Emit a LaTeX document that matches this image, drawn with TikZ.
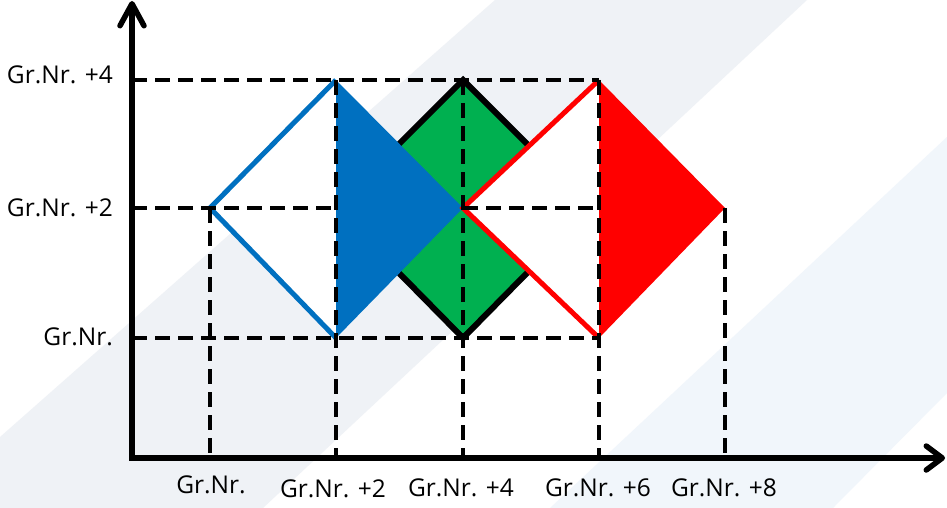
\documentclass[tikz,border=0pt]{standalone}
\usepackage{fontspec}
\setmainfont{Open Sans}
\usetikzlibrary{arrows.meta}
\definecolor{stripeA}{RGB}{239,242,246}
\definecolor{stripeB}{RGB}{241,246,251}
\definecolor{pblue}{RGB}{0,112,192}
\definecolor{pgreen}{RGB}{0,176,80}
\definecolor{pred}{RGB}{255,0,0}
\begin{document}
\begin{tikzpicture}[x=1pt,y=-1pt,
  guide/.style={line width=3.8pt, dash pattern=on 15pt off 8pt},
  axisline/.style={line width=5.5pt, line join=miter},
  edgeline/.style={line width=5pt, line join=miter},
  lbl/.style={font=\fontsize{24.5}{29}\selectfont, inner sep=0pt}]
\useasboundingbox (0,0) rectangle (947,508);
% background
\fill[white] (0,0) rectangle (947,508);
\fill[stripeA] (495,0) -- (807,0) -- (263,508) -- (0,508) -- (0,437) -- cycle;
\fill[stripeB] (550,508) -- (947,137) -- (947,393) -- (833,508) -- cycle;
% coordinates
\coordinate (O) at (132,458);
\coordinate (ytip) at (132,1);
\coordinate (xtip) at (945,458);
\coordinate (y4) at (132,80);
\coordinate (y2) at (132,208);
\coordinate (y0) at (132,338);
\coordinate (A0) at (210,208);
\coordinate (B4) at (336,80);
\coordinate (Bm) at (336,208);
\coordinate (B0) at (336,338);
\coordinate (C2) at (463,208);
\coordinate (G4) at (463,80);
\coordinate (G0) at (463,338);
\coordinate (Gl) at (335,208);
\coordinate (Gr) at (591,208);
\coordinate (R4) at (599,80);
\coordinate (Rm) at (599,208);
\coordinate (R0) at (599,338);
\coordinate (E2) at (725,208);
\coordinate (xa) at (210,458);
\coordinate (xb) at (336,458);
\coordinate (xc) at (463,458);
\coordinate (xd) at (599,458);
\coordinate (xe) at (725,458);
% green diamond
\filldraw[fill=pgreen, draw=black, line width=6pt, line join=miter] (G4) -- (Gr) -- (G0) -- (Gl) -- cycle;
% white halves
\fill[white] (B4) -- (A0) -- (B0) -- cycle;
\fill[white] (R4) -- (C2) -- (R0) -- cycle;
% filled halves
\fill[pblue] (B4) -- (C2) -- (B0) -- cycle;
\fill[pred] (R4) -- (E2) -- (R0) -- cycle;
% outlines
\draw[pblue, edgeline] (B4) -- (A0) -- (B0);
\draw[pred, edgeline] (R4) -- (C2) -- (R0);
% guides
\draw[guide] (y4) -- (R4);
\draw[guide] (y2) -- (Bm);
\draw[guide] (C2) -- (Rm);
\draw[guide] (y0) -- (R0);
\draw[guide] (A0) -- (xa);
\draw[guide] (B4) -- (xb);
\draw[guide] (G4) -- (xc);
\draw[guide] (R4) -- (xd);
\draw[guide] (E2) -- (xe);
% axes
\draw[axisline, {Straight Barb[length=22pt,width=24pt,round]}-{Straight Barb[length=16pt,width=24pt,round]}] (ytip) -- (O) -- (xtip);
% labels
\node[lbl, anchor=base east] (ly4) at (113,84) {Gr.Nr. +4};
\node[lbl, anchor=base east] (ly2) at (113,216) {Gr.Nr. +2};
\node[lbl, anchor=base east] (ly0) at (113,345) {Gr.Nr.};
\node[lbl, anchor=base] (lx0) at (211,493) {Gr.Nr.};
\node[lbl, anchor=base] (lx2) at (333,497) {Gr.Nr. +2};
\node[lbl, anchor=base] (lx4) at (461,496) {Gr.Nr. +4};
\node[lbl, anchor=base] (lx6) at (598,496) {Gr.Nr. +6};
\node[lbl, anchor=base] (lx8) at (724,496) {Gr.Nr. +8};
\end{tikzpicture}
\end{document}
